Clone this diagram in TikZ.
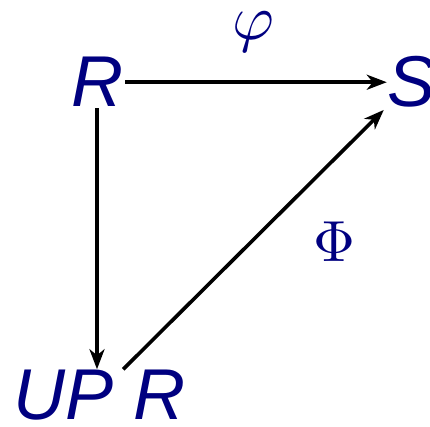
\documentclass[tikz,border=0pt]{standalone}
\usepackage{fontspec}
\setmainfont{Liberation Sans}
\usetikzlibrary{arrows.meta}
\definecolor{navy}{HTML}{000080}
\tikzset{
  obj/.style={inner sep=0pt, text=navy, font=\fontsize{72}{72}\selectfont\itshape, anchor=base},
  lbl/.style={inner sep=0pt, text=navy, anchor=base},
  arr/.style={line width=3.6pt, -{Stealth[length=20pt,width=15pt,inset=6pt]}}
}
\begin{document}
\begin{tikzpicture}[x=1pt,y=1pt]
\useasboundingbox (0,0) rectangle (430,426);
\node[obj] (R) at (97,319) {R};
\node[obj] (S) at (412,319) {S};
\node[obj, anchor=base west] (UPR) at (13,7) {UP R};
\node[lbl, scale=6.4] (phi) at (253,386) {$\varphi$};
\node[lbl, scale=5.8] (Phi) at (334,164) {$\Phi$};
\draw[arr] ([xshift=2pt]R.east) -- ([xshift=-1pt]S.west |- R.east);
\draw[arr] ([yshift=-1pt]R.south) -- (R.south |- UPR.north);
\draw[arr] ([shift={(24pt,0pt)}]UPR.north) -- ([shift={(-4pt,-2pt)}]S.south west);
\end{tikzpicture}
\end{document}
